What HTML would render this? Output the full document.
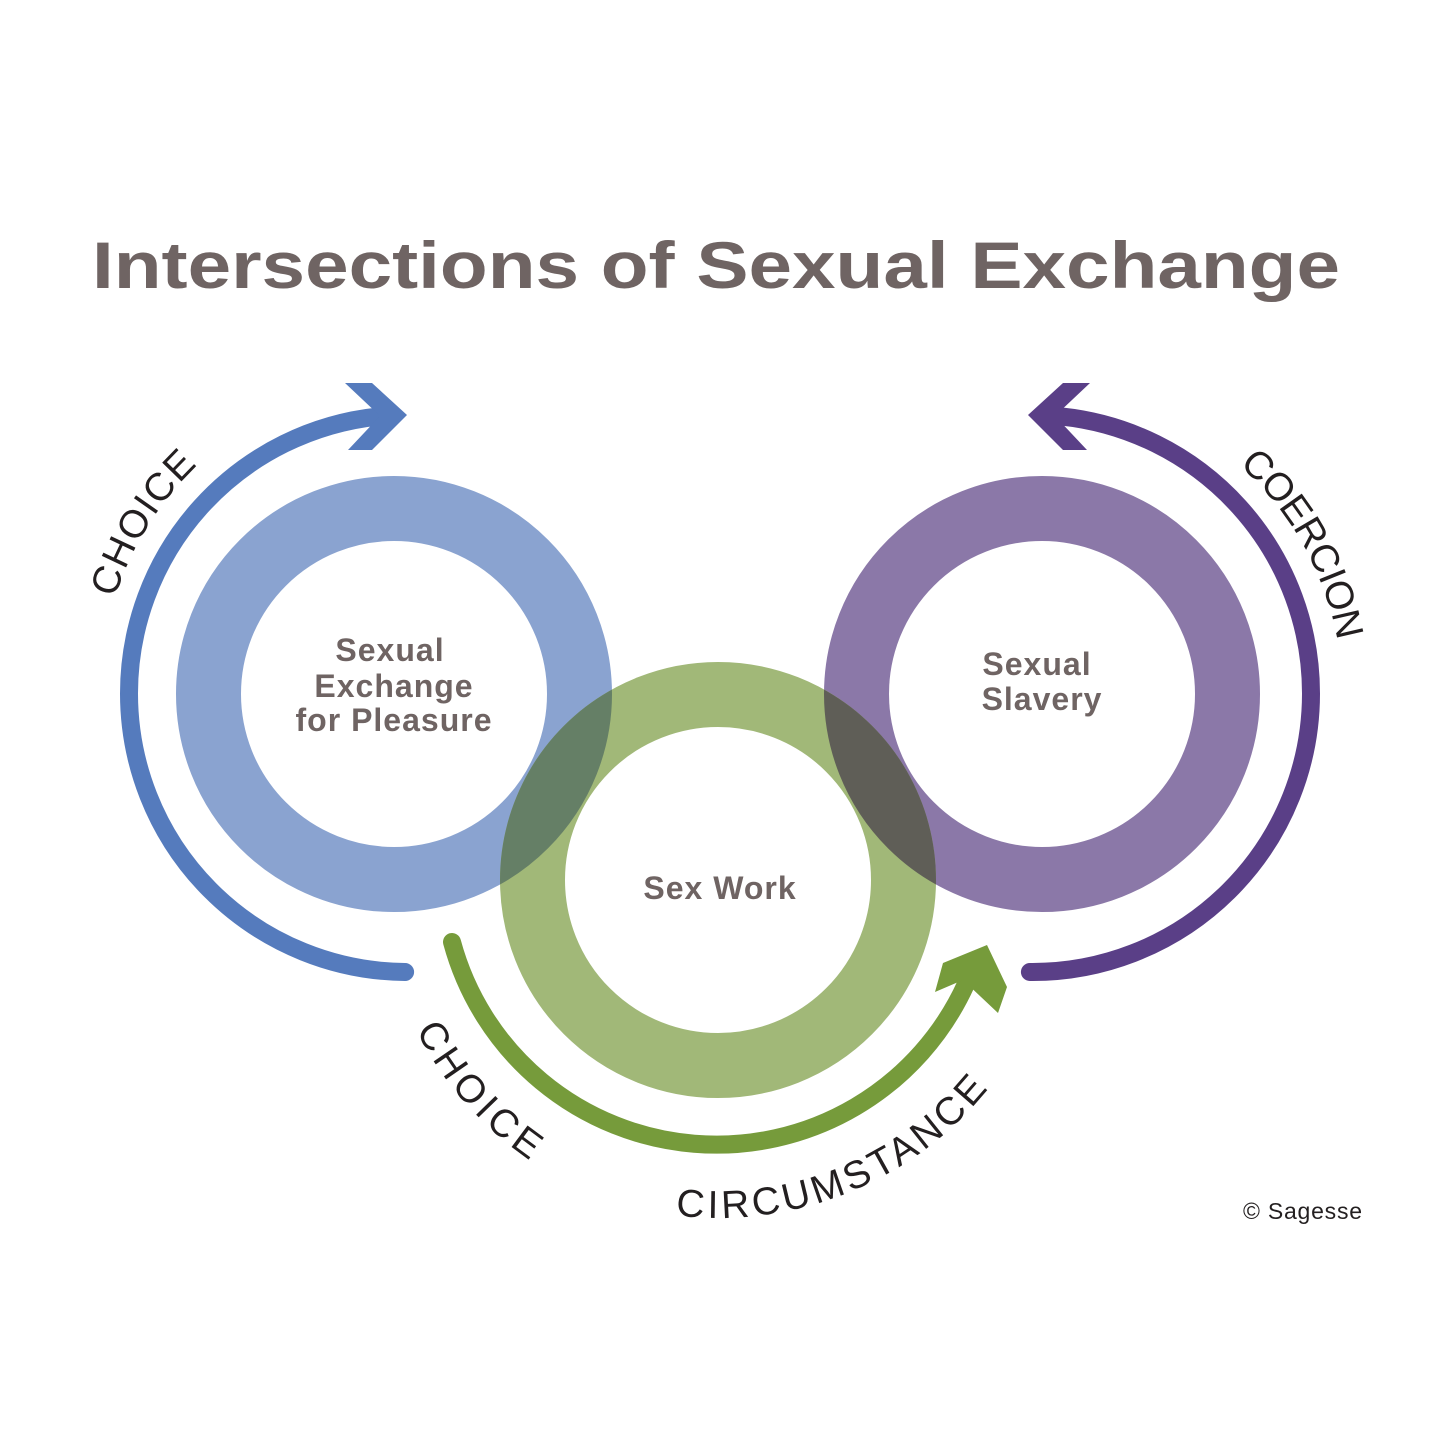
<!DOCTYPE html>
<html><head><meta charset="utf-8"><style>
html,body{margin:0;padding:0;background:#fff;}
svg{display:block;}
</style></head><body>
<svg width="1440" height="1440" viewBox="0 0 1440 1440" xmlns="http://www.w3.org/2000/svg">
<defs>
  <clipPath id="greenRing"><path clip-rule="evenodd" d="M718,662 a218,218 0 1,0 0.01,0 Z M718,727 a153,153 0 1,0 0.01,0 Z"/></clipPath>
  <path id="tBlue" d="M115,598 A310,310 0 0 1 250,425"/>
  <path id="tPurp" d="M1239,465 A310,310 0 0 1 1342.5,693.5"/>
  <path id="tG1" d="M416,1030 A348,348 0 0 0 576,1187"/>
  <path id="tG2" d="M675.6,1215.4 A348,348 0 0 0 1019,1044"/>
</defs>
<rect width="1440" height="1440" fill="#fff"/>
<text x="92" y="288" font-family="Liberation Sans, sans-serif" font-weight="bold" font-size="66" fill="#6f6463" textLength="1248" lengthAdjust="spacingAndGlyphs">Intersections of Sexual Exchange</text>

<circle cx="394" cy="694" r="185.5" fill="none" stroke="#8aa3d0" stroke-width="65"/>
<circle cx="1042" cy="694" r="185.5" fill="none" stroke="#8b78a8" stroke-width="65"/>
<circle cx="718" cy="880" r="185.5" fill="none" stroke="#a1b878" stroke-width="65"/>
<g clip-path="url(#greenRing)">
  <circle cx="394" cy="694" r="185.5" fill="none" stroke="#657f66" stroke-width="65"/>
  <circle cx="1042" cy="694" r="185.5" fill="none" stroke="#5f5e57" stroke-width="65"/>
</g>

<path d="M405.1,972 A278.5,278.5 0 0 1 129,693.5 A278.5,278.5 0 0 1 378.4,416.5" fill="none" stroke="#557bbd" stroke-width="18" stroke-linecap="round"/>
<polygon points="345,383 372,383 407,415 372,450 348,450 380,416" fill="#557bbd"/>
<path d="M1029.9,972 A278.5,278.5 0 0 0 1311,693.5 A278.5,278.5 0 0 0 1061.6,416.5" fill="none" stroke="#5a3f87" stroke-width="18" stroke-linecap="round"/>
<polygon points="1090,383 1063,383 1028,415 1063,450 1087,450 1055,416" fill="#5a3f87"/>
<path d="M452,942 A274,274 0 0 0 966,984" fill="none" stroke="#769b3b" stroke-width="18" stroke-linecap="round"/>
<polygon points="987,945 943,963 935,992 963,980 998,1013 1007,987" fill="#769b3b"/>

<g font-family="Liberation Sans, sans-serif" font-weight="bold" font-size="32" fill="#6f6463" text-anchor="middle" letter-spacing="1">
  <text x="390" y="661">Sexual</text>
  <text x="394" y="697">Exchange</text>
  <text x="394" y="731">for Pleasure</text>
  <text x="1037" y="675">Sexual</text>
  <text x="1042" y="710">Slavery</text>
  <text x="720" y="899">Sex Work</text>
</g>

<g font-family="Liberation Sans, sans-serif" font-size="39" fill="#231f20">
  <text><textPath href="#tBlue" textLength="158" lengthAdjust="spacing">CHOICE</textPath></text>
  <text><textPath href="#tPurp" textLength="205" lengthAdjust="spacing">COERCION</textPath></text>
  <text><textPath href="#tG1" textLength="175" lengthAdjust="spacing">CHOICE</textPath></text>
  <text><textPath href="#tG2" textLength="352" lengthAdjust="spacing">CIRCUMSTANCE</textPath></text>
</g>
<text x="1243" y="1219" font-family="Liberation Sans, sans-serif" font-size="23" fill="#231f20" textLength="119">© Sagesse</text>
</svg>
</body></html>
